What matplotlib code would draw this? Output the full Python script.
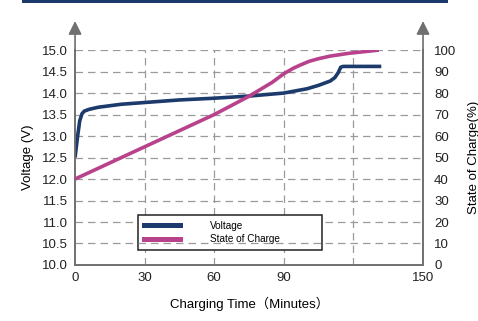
import matplotlib
matplotlib.use("Agg")
import matplotlib.pyplot as plt
from matplotlib.patches import Rectangle, FancyArrowPatch

plt.rcParams['font.family'] = ['Liberation Sans', 'Noto Sans CJK JP', 'DejaVu Sans']

# charging data
volt_t = [0, 1, 2, 3, 4, 6, 10, 20, 30, 45, 60, 75, 90, 100, 105, 110, 112, 113.5, 114.5, 115.5, 132]
volt_v = [12.5, 12.95, 13.35, 13.52, 13.58, 13.62, 13.67, 13.74, 13.78, 13.84, 13.88, 13.93,
          14.0, 14.1, 14.18, 14.28, 14.36, 14.48, 14.6, 14.62, 14.62]

soc_t = [0, 30, 60, 75, 85, 90, 94, 97, 101, 105, 110, 118, 125, 131]
soc_p = [40, 55, 70, 78.5, 85, 89, 91.5, 93, 94.8, 96, 97.2, 98.5, 99.3, 100]

x_ticks = [0, 30, 60, 90, 120, 150]
x_labels = ['0', '30', '60', '90', '', '150']
v_ticks = [10.0, 10.5, 11.0, 11.5, 12.0, 12.5, 13.0, 13.5, 14.0, 14.5, 15.0]
soc_ticks = [0, 10, 20, 30, 40, 50, 60, 70, 80, 90, 100]

NAVY = '#1d3a6c'
PINK = '#b8428b'
GRID = '#9a9a9a'
SPINE = '#707070'

fig = plt.figure(figsize=(4.78, 3.21), dpi=100)
ax = fig.add_axes([0.157, 0.1745, 0.728, 0.6695])
ax2 = ax.twinx()

# grid
for v in v_ticks[1:]:
    ax.axhline(v, color=GRID, lw=0.9, dashes=(6, 4), zorder=0)
for t in x_ticks[1:-1]:
    ax.axvline(t, color=GRID, lw=0.9, dashes=(6, 4), zorder=0)

ax.plot(volt_t, volt_v, color=NAVY, lw=2.6, solid_capstyle='butt', zorder=3)
ax2.plot(soc_t, soc_p, color=PINK, lw=2.6, solid_capstyle='butt', zorder=3)

ax.set_xlim(0, 150)
ax.set_ylim(10, 15)
ax2.set_ylim(0, 100)

ax.set_xticks(x_ticks)
ax.set_xticklabels(x_labels)
ax.set_yticks(v_ticks)
ax.set_yticklabels(['%.1f' % v for v in v_ticks])
ax2.set_yticks(soc_ticks)

ax.tick_params(axis='both', length=0, labelsize=9.5, colors='#222222', pad=5)
ax2.tick_params(axis='y', length=0, labelsize=9.5, colors='#222222', pad=8)

for a in (ax, ax2):
    a.spines['top'].set_visible(False)
    for s in ('left', 'right', 'bottom'):
        a.spines[s].set_color(SPINE)
        a.spines[s].set_linewidth(1.2)

ax.set_ylabel('Voltage (V)', fontsize=9.5, labelpad=6)
ax2.set_ylabel('State of Charge(%)', fontsize=9.5, labelpad=8)
ax.set_xlabel('Charging Time（Minutes）', fontsize=9.5, labelpad=9)

# arrows on top of both vertical axes
for xf in (0, 1):
    arr = FancyArrowPatch((xf, 0.99), (xf, 1.135), transform=ax2.transAxes,
                          arrowstyle='-|>,head_length=8,head_width=4',
                          color=SPINE, lw=1.2, shrinkA=0, shrinkB=0,
                          mutation_scale=1, clip_on=False, zorder=5)
    ax2.add_patch(arr)

# legend
h1, = ax2.plot([], [], color=NAVY, lw=3.6)
h2, = ax2.plot([], [], color=PINK, lw=3.6)
leg = ax2.legend([h1, h2], ['Voltage', 'State of Charge'], loc='lower left',
                 bbox_to_anchor=(0.181, 0.07, 0.529, 0.1), mode='expand',
                 fontsize=7.2, frameon=True, fancybox=False, framealpha=1,
                 edgecolor='#222222', handlelength=3.6, handletextpad=3.0,
                 borderpad=0.55, labelspacing=0.35, borderaxespad=0)
leg.get_frame().set_linewidth(1.1)
ax2.axhline(10, xmin=0.181, xmax=0.71, color=GRID, lw=0.9, dashes=(6, 4), zorder=6)

# navy band at top
fig.add_artist(Rectangle((0.046, 0.99), 0.891, 0.012, transform=fig.transFigure,
                         color='#1d3a6c', lw=0))

fig.savefig('out.png', dpi=100)
